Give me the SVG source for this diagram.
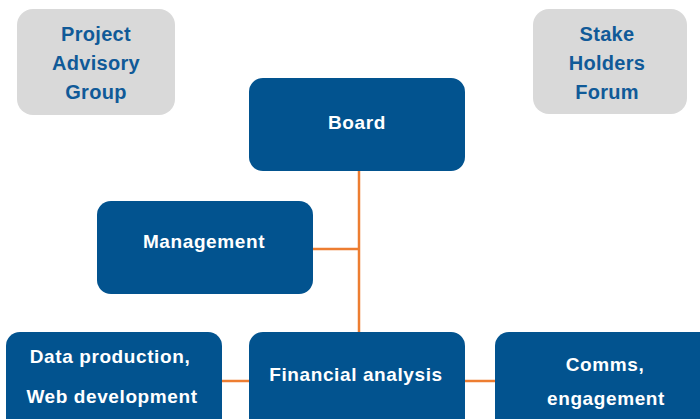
<svg xmlns="http://www.w3.org/2000/svg" width="700" height="419" viewBox="0 0 700 419">
<style>
.gray{fill:#d9d9d9;}
.blue{fill:#02538f;}
.gt{fill:#105a98;font-family:"Liberation Sans",Arial,sans-serif;font-weight:bold;font-size:20px;letter-spacing:0.3px;text-anchor:middle;}
.bt{fill:#ffffff;font-family:"Liberation Sans",Arial,sans-serif;font-weight:bold;font-size:19px;letter-spacing:0.6px;text-anchor:middle;}
.conn{stroke:#ed7d31;stroke-width:2.5;fill:none;}
</style>
<rect width="700" height="419" fill="#ffffff"/>
<g id="connectors">
<line class="conn" x1="359" y1="171" x2="359" y2="332"/>
<line class="conn" x1="313" y1="249" x2="359" y2="249"/>
<line class="conn" x1="222" y1="381" x2="249" y2="381"/>
<line class="conn" x1="465" y1="381" x2="495" y2="381"/>
</g>
<g id="project-advisory-group">
<rect class="gray" x="17" y="9" width="158" height="106" rx="16"/>
<text class="gt" x="96" y="41">Project</text>
<text class="gt" x="96" y="70">Advisory</text>
<text class="gt" x="96" y="99">Group</text>
</g>
<g id="stake-holders-forum">
<rect class="gray" x="533" y="9" width="154" height="105" rx="16"/>
<text class="gt" x="607" y="41">Stake</text>
<text class="gt" x="607" y="70">Holders</text>
<text class="gt" x="607" y="99">Forum</text>
</g>
<g id="board">
<rect class="blue" x="249" y="78" width="216" height="93" rx="14"/>
<text class="bt" x="357" y="129">Board</text>
</g>
<g id="management">
<rect class="blue" x="97" y="201" width="216" height="93" rx="14"/>
<text class="bt" x="204" y="248">Management</text>
</g>
<g id="data-production">
<rect class="blue" x="6" y="332" width="216" height="100" rx="14"/>
<text class="bt" x="110" y="363">Data production,</text>
<text class="bt" x="112" y="403">Web development</text>
</g>
<g id="financial-analysis">
<rect class="blue" x="249" y="332" width="216" height="100" rx="14"/>
<text class="bt" x="356" y="381">Financial analysis</text>
</g>
<g id="comms-engagement">
<rect class="blue" x="495" y="332" width="222" height="100" rx="14"/>
<text class="bt" x="605" y="371">Comms,</text>
<text class="bt" x="606" y="405">engagement</text>
</g>
</svg>
